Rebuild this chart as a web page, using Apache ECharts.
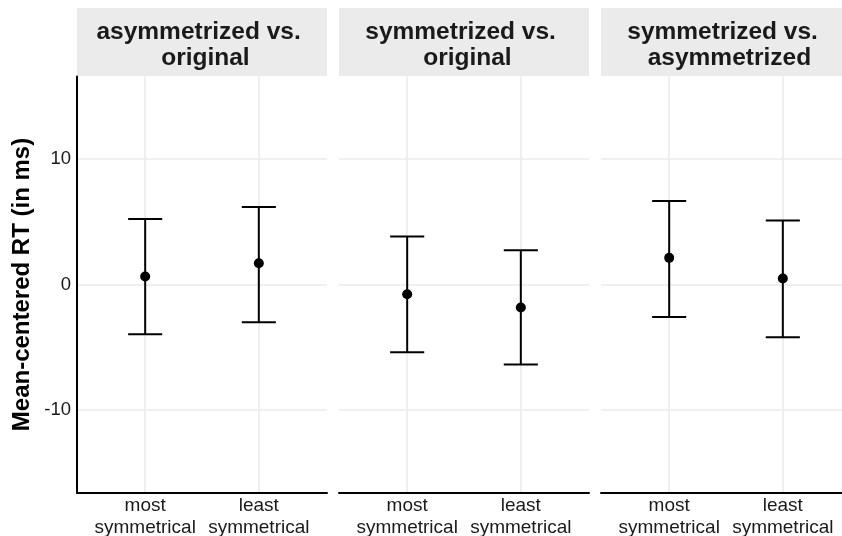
<!DOCTYPE html>
<html>
<head>
<meta charset="utf-8">
<script src="https://cdn.jsdelivr.net/npm/echarts@6/dist/echarts.min.js"></script>
<style>html,body{margin:0;padding:0;background:#fff;}#c{width:842px;height:536px;}</style>
</head>
<body>
<div id="c"></div>
<script>
// ---- data ----
const panels = ['asymmetrized vs. \n original', 'symmetrized vs. \n original', 'symmetrized vs. \n asymmetrized'];
const categories = ['most\nsymmetrical', 'least\nsymmetrical'];
const meanRT  = [[0.64, 1.69], [-0.77, -1.83], [2.12, 0.48]];
const lowerCI = [[-3.95, -3.00], [-5.39, -6.37], [-2.58, -4.19]];
const upperCI = [[5.22, 6.17], [3.82, 2.73], [6.65, 5.09]];
const yTicks = [-10, 0, 10];
const yTitle = 'Mean-centered RT (in ms)';

// ---- layout ----
const FONT = '"Liberation Sans", Arial, sans-serif';
const panelLeft = [77, 339, 601];
const panelW = 250, plotTop = 76.5, plotH = 416;
const stripTop = 8, stripH = 68;

const chart = echarts.init(document.getElementById('c'), null, {renderer: 'canvas'});

const grids = [], xAxes = [], yAxes = [], series = [], graphics = [];
panels.forEach((p, i) => {
  grids.push({left: panelLeft[i], top: plotTop, width: panelW, height: plotH,
    containLabel: false, outerBoundsMode: 'none'});
  const catIdx = categories.map((c, k) => k + 1);
  xAxes.push({
    type: 'value', gridIndex: i, min: 0.4, max: 2.6,
    axisLine: {show: true, onZero: false, lineStyle: {color: '#000', width: 2}},
    axisTick: {show: false, customValues: catIdx},
    axisLabel: {customValues: catIdx, formatter: v => categories[Math.round(v) - 1] || '',
      fontFamily: FONT, fontSize: 19, color: '#1a1a1a', lineHeight: 21.5, margin: 3},
    splitLine: {show: true, lineStyle: {color: '#ebebeb', width: 1.6}}
  });
  yAxes.push({
    type: 'value', gridIndex: i, min: -16.55, max: 16.55,
    axisLine: {show: i === 0, lineStyle: {color: '#000', width: 2}},
    axisTick: {show: false, customValues: yTicks},
    axisLabel: {show: i === 0, customValues: yTicks, fontFamily: FONT, fontSize: 18.5, color: '#1a1a1a', margin: 6},
    splitLine: {show: true, lineStyle: {color: '#ebebeb', width: 1.6}},
    name: i === 0 ? yTitle : '', nameLocation: 'middle', nameGap: 43,
    nameTextStyle: {fontFamily: FONT, fontSize: 24, fontWeight: 'bold', color: '#000'}
  });
  const barData = catIdx.map((x, k) => [x, lowerCI[i][k], upperCI[i][k]]);
  series.push({
    type: 'custom', xAxisIndex: i, yAxisIndex: i, data: barData, z: 3, clip: false,
    renderItem: (params, api) => {
      const x = api.value(0);
      const lo = api.coord([x, api.value(1)]);
      const hi = api.coord([x, api.value(2)]);
      const half = api.size([0.3, 0])[0] / 2;
      const style = {stroke: '#000', lineWidth: 2};
      return {type: 'group', children: [
        {type: 'line', shape: {x1: lo[0], y1: lo[1], x2: hi[0], y2: hi[1]}, style},
        {type: 'line', shape: {x1: lo[0] - half, y1: lo[1], x2: lo[0] + half, y2: lo[1]}, style},
        {type: 'line', shape: {x1: hi[0] - half, y1: hi[1], x2: hi[0] + half, y2: hi[1]}, style}
      ]};
    }
  });
  series.push({
    type: 'scatter', xAxisIndex: i, yAxisIndex: i, z: 4,
    data: catIdx.map((x, k) => [x, meanRT[i][k]]),
    symbol: 'circle', symbolSize: 10, itemStyle: {color: '#000', opacity: 1}
  });
  graphics.push({type: 'rect', left: panelLeft[i], top: stripTop,
    shape: {width: panelW, height: stripH}, style: {fill: '#ebebeb'}, silent: true});
  graphics.push({type: 'text', x: panelLeft[i] + panelW / 2, y: 45,
    style: {text: p, font: 'bold 24.5px ' + FONT, fill: '#1a1a1a', align: 'center', verticalAlign: 'middle', lineHeight: 26},
    silent: true});
});

chart.setOption({
  animation: false,
  backgroundColor: '#fff',
  grid: grids, xAxis: xAxes, yAxis: yAxes, series: series,
  graphic: graphics
});
</script>
</body>
</html>
